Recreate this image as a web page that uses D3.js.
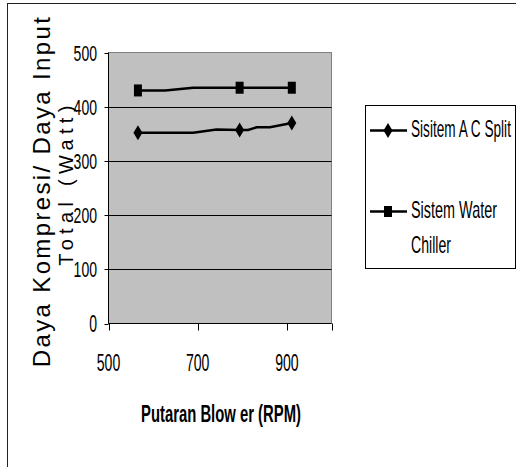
<!DOCTYPE html>
<html>
<head>
<meta charset="utf-8">
<script src="https://cdn.jsdelivr.net/npm/d3@7"></script>
<style>
  body { margin: 0; background: #fff; }
  text { font-family: "Liberation Sans", Arial, sans-serif; fill: #000; }
</style>
</head>
<body>
<div id="chart"></div>
<script>
// values
var yTicks = [0, 100, 200, 300, 400, 500];
var xTicks = [500, 700, 900];
var markerRpm = [566, 794, 911];
var acMarkerWatt = [352, 357, 370];
var wcMarkerWatt = [430, 435, 435];
// line vertices (the drawn line bends between the markers)
var acLineRpm = [566, 690, 742, 794, 813, 832, 862, 911];
var acLineWatt = [352, 352, 358, 357, 357, 362, 362, 370];
var wcLineRpm = [566, 627, 690, 794, 911];
var wcLineWatt = [430, 430, 435, 435, 435];
var seriesNames = ["Sisitem A C Split", "Sistem Water", "Chiller"];
var xTitle = "Putaran Blow er (RPM)";
var yTitle1 = "Daya Kompresi/ Daya Input";
var yTitle2 = "Total (Watt)";

var W = 516, H = 467, fs = 23;

var svg = d3.select("#chart").append("svg")
    .attr("width", W)
    .attr("height", H);

// squeeze a text sideways so that it is w pixels long
function fit(t, pos, w) {
  var l = t.node().getComputedTextLength();
  t.attr("transform", pos + " scale(" + (w / l) + ",1)");
}
// spread letters so that a text is w pixels long
function spread(t, w) {
  var n = t.text().length;
  var l = t.node().getComputedTextLength();
  t.style("letter-spacing", ((w - l) / (n - 1)) + "px");
}

// outer frame
svg.append("rect")
    .attr("x", 7.5).attr("y", 3.5)
    .attr("width", 520).attr("height", 470)
    .attr("fill", "none").attr("stroke", "#222");

var x = d3.scaleLinear().domain([500, 1000]).range([108.5, 331.5]);
var y = d3.scaleLinear().domain([0, 500]).range([323.5, 52.5]);

// plot area
svg.append("rect")
    .attr("x", x(500)).attr("y", y(500))
    .attr("width", x(1000) - x(500)).attr("height", y(0) - y(500))
    .attr("fill", "#c0c0c0")
    .attr("stroke", "#808080");

// gridlines
svg.selectAll(".grid")
    .data(yTicks.filter(function(d) { return d > 0 && d < 500; }))
    .enter().append("line")
      .attr("x1", x(500)).attr("x2", x(1000))
      .attr("y1", function(d) { return Math.round(y(d)) + 0.5; })
      .attr("y2", function(d) { return Math.round(y(d)) + 0.5; })
      .attr("stroke", "#000");

// axes lines
svg.append("line")
    .attr("x1", x(500)).attr("x2", x(500))
    .attr("y1", y(500)).attr("y2", y(0))
    .attr("stroke", "#000");
svg.append("line")
    .attr("x1", x(500)).attr("x2", x(1000))
    .attr("y1", y(0)).attr("y2", y(0))
    .attr("stroke", "#000");

// y ticks + labels
svg.selectAll(".ytick")
    .data(yTicks)
    .enter().append("line")
      .attr("x1", x(500) - 4).attr("x2", x(500))
      .attr("y1", function(d) { return Math.round(y(d)) + 0.5; })
      .attr("y2", function(d) { return Math.round(y(d)) + 0.5; })
      .attr("stroke", "#000");

svg.selectAll(".ylab")
    .data(yTicks)
    .enter().append("text")
      .text(function(d) { return d; })
      .style("font-size", fs + "px")
      .style("text-anchor", "end")
      .each(function(d) {
        var t = d3.select(this);
        fit(t, "translate(97," + (y(d) + 8) + ")", String(d).length * 7.8);
      });

// x ticks + labels
svg.selectAll(".xtick")
    .data(xTicks.concat([1000]))
    .enter().append("line")
      .attr("x1", function(d) { return Math.round(x(d)) + 0.5; })
      .attr("x2", function(d) { return Math.round(x(d)) + 0.5; })
      .attr("y1", y(0)).attr("y2", y(0) + 7)
      .attr("stroke", "#000");

svg.selectAll(".xlab")
    .data(xTicks)
    .enter().append("text")
      .text(function(d) { return d; })
      .style("font-size", fs + "px")
      .style("text-anchor", "middle")
      .each(function(d) {
        fit(d3.select(this), "translate(" + x(d) + ",370.5)", 23.5);
      });

// titles
var xt = svg.append("text")
    .text(xTitle)
    .style("font-size", fs + "px")
    .style("font-weight", "bold")
    .style("text-anchor", "middle");
fit(xt, "translate(221,421.5)", 160);

var yt1 = svg.append("text")
    .text(yTitle1)
    .style("font-size", "24px")
    .style("text-anchor", "middle")
    .attr("transform", "translate(50,191) rotate(-90)");
spread(yt1, 350);

var yt2 = svg.append("text")
    .text(yTitle2)
    .style("font-size", "20px")
    .style("text-anchor", "middle")
    .attr("transform", "translate(73,183) rotate(-90)");
spread(yt2, 160);

// lines
var line = d3.line()
    .x(function(d) { return x(d[0]); })
    .y(function(d) { return y(d[1]); });

svg.append("path")
    .attr("d", line(d3.zip(acLineRpm, acLineWatt)))
    .attr("fill", "none").attr("stroke", "#000").attr("stroke-width", 2.5);
svg.append("path")
    .attr("d", line(d3.zip(wcLineRpm, wcLineWatt)))
    .attr("fill", "none").attr("stroke", "#000").attr("stroke-width", 2.5);

var diamond = "M0,-7.5L4.5,0L0,7.5L-4.5,0Z";

svg.selectAll(".ac")
    .data(d3.zip(markerRpm, acMarkerWatt))
    .enter().append("path")
      .attr("d", diamond)
      .attr("fill", "#000")
      .attr("transform", function(d) { return "translate(" + x(d[0]) + "," + y(d[1]) + ")"; });

svg.selectAll(".wc")
    .data(d3.zip(markerRpm, wcMarkerWatt))
    .enter().append("rect")
      .attr("x", function(d) { return x(d[0]) - 4; })
      .attr("y", function(d) { return y(d[1]) - 6; })
      .attr("width", 8).attr("height", 12)
      .attr("fill", "#000");

// legend
svg.append("rect")
    .attr("x", 365.5).attr("y", 105.5)
    .attr("width", 150).attr("height", 163)
    .attr("fill", "#fff").attr("stroke", "#000");

svg.append("line")
    .attr("x1", 370).attr("x2", 407).attr("y1", 130.5).attr("y2", 130.5)
    .attr("stroke", "#000").attr("stroke-width", 2.5);
svg.append("path")
    .attr("d", diamond).attr("fill", "#000")
    .attr("transform", "translate(388,130.5)");
var l1 = svg.append("text")
    .text(seriesNames[0])
    .style("font-size", fs + "px");
fit(l1, "translate(411,136.5)", 100);

svg.append("line")
    .attr("x1", 370).attr("x2", 407).attr("y1", 211.5).attr("y2", 211.5)
    .attr("stroke", "#000").attr("stroke-width", 2.5);
svg.append("rect")
    .attr("x", 384).attr("y", 206).attr("width", 8).attr("height", 11)
    .attr("fill", "#000");
var l2 = svg.append("text")
    .text(seriesNames[1])
    .style("font-size", fs + "px");
fit(l2, "translate(411,218)", 86);
var l3 = svg.append("text")
    .text(seriesNames[2])
    .style("font-size", fs + "px");
fit(l3, "translate(411,253)", 40);
</script>
</body>
</html>
